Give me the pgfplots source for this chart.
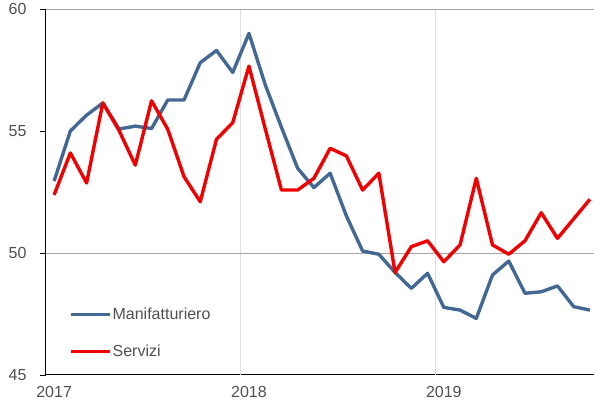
\documentclass[border=0pt]{standalone}
\usepackage{fontspec}
\setmainfont{Liberation Sans}
\usepackage{pgfplots}
\pgfplotsset{compat=1.18}

\definecolor{manblue}{RGB}{68,104,148}
\definecolor{serred}{RGB}{240,0,0}
\definecolor{labgray}{RGB}{80,80,80}

% month index (0 = Jan 2017), points drawn at mid-month
\pgfplotstableread{
m    man    ser
0.5  52.95  52.38
1.5  55.00  54.10
2.5  55.65  52.87
3.5  56.15  56.15
4.5  55.08  55.02
5.5  55.20  53.60
6.5  55.10  56.24
7.5  56.27  55.07
8.5  56.27  53.13
9.5  57.80  52.10
10.5 58.30  54.66
11.5 57.40  55.34
12.5 59.00  57.66
13.5 56.90  55.10
14.5 55.15  52.58
15.5 53.47  52.58
16.5 52.68  53.06
17.5 53.27  54.29
18.5 51.52  53.98
19.5 50.08  52.58
20.5 49.95  53.27
21.5 49.20  49.20
22.5 48.55  50.26
23.5 49.17  50.50
24.5 47.77  49.64
25.5 47.66  50.33
26.5 47.32  53.06
27.5 49.10  50.33
28.5 49.67  49.95
29.5 48.35  50.50
30.5 48.41  51.65
31.5 48.65  50.60
32.5 47.80  51.40
33.5 47.66  52.20
}\pmidata

\begin{document}
\fontsize{16}{19}\selectfont
\begin{tikzpicture}
\begin{axis}[
    scale only axis,
    width=548pt, height=366pt,
    xmin=0, xmax=33.75,
    ymin=45, ymax=60,
    axis lines=left,
    axis line style={-, black, line width=1pt},
    xtick={0.5,12.5,24.5},
    xticklabels={2017,2018,2019},
    major x tick style={draw=none},
    xticklabel style={yshift=0pt},
    ytick={45,50,55,60},
    yticklabel style={xshift=-8pt},
    tick align=outside,
    major tick length=6pt,
    major y tick style={black, line width=0.8pt},
    extra x ticks={12,24},
    extra x tick labels={},
    extra x tick style={grid=major, major grid style={gray!25, line width=0.8pt}, major tick length=0pt},
    extra y ticks={50,60},
    extra y tick labels={},
    extra y tick style={grid=major, major grid style={gray!70, line width=0.8pt}, major tick length=0pt},
    ticklabel style={font=\fontsize{16}{19}\selectfont, text=labgray},
    /pgf/number format/assume math mode=true,
    clip=false,
    legend style={at={(axis description cs:0.042,0.187)}, anchor=north west,
        draw=none, fill=none, font=\fontsize{16}{19}\selectfont, text=labgray,
        row sep=21pt, inner sep=0pt, nodes={inner sep=1pt}},
    legend cell align=left,
    legend image code/.code={\draw[#1] (0pt,0pt) -- (39pt,0pt);},
]
\addplot[manblue, line width=3.4pt, line join=round] table[x=m, y=man] {\pmidata};
\addlegendentry{Manifatturiero}
\addplot[serred, line width=3.4pt, line join=round] table[x=m, y=ser] {\pmidata};
\addlegendentry{Servizi}
\coordinate (o) at (rel axis cs:0,0);
\end{axis}
\pgfresetboundingbox
\path[use as bounding box] (o) ++(-46pt,-31pt) rectangle ++(594pt,406pt);
\end{tikzpicture}
\end{document}
